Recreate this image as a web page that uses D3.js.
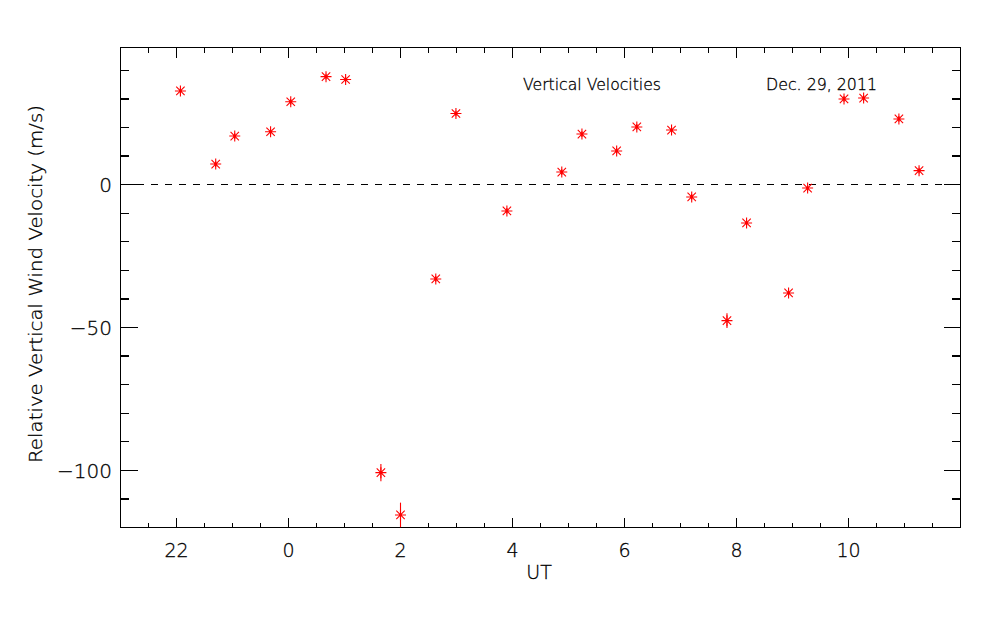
<!DOCTYPE html>
<html lang="en">
<head>
    <meta charset="UTF-8">
    <title>Vertical Velocities</title>
    <script src="https://d3js.org/d3.v7.min.js"></script>
    <style>
        body { margin: 0; background: #fff; }
        text { font-family: "DejaVu Sans", sans-serif; font-weight: 200; fill: #000;
               stroke: #000; stroke-width: 0.3; }
    </style>
</head>
<body>
<svg width="1000" height="625"></svg>

<script>
    // UT in hours, continuous across midnight (24 = 0 UT on the axis)
    const ut = [22.07, 22.70, 23.04, 23.68, 24.04, 24.67, 25.02, 25.65, 26.00,
                26.63, 26.99, 27.90, 28.88, 29.24, 29.86, 30.22, 30.84, 31.20,
                31.83, 32.18, 32.93, 33.27, 33.92, 34.27, 34.90, 35.26];
    // relative vertical wind velocity, m/s
    const vel = [32.8, 7.2, 17.0, 18.5, 29.0, 37.8, 36.8, -100.8, -115.6,
                 -33.0, 24.9, -9.2, 4.4, 17.7, 11.8, 20.2, 19.1, -4.3,
                 -47.6, -13.4, -37.9, -1.2, 30.0, 30.3, 23.0, 4.9];
    // error bars, m/s
    const err = [1.0, 1.0, 1.0, 1.0, 1.0, 1.0, 1.0, 3.0, 4.3,
                 1.0, 1.0, 1.0, 1.0, 1.0, 1.0, 1.0, 1.0, 1.0,
                 2.6, 1.0, 1.0, 1.0, 1.0, 1.0, 1.0, 1.0];

    const xMajor = [22, 24, 26, 28, 30, 32, 34];
    const yMajor = [-100, -50, 0];

    const svg = d3.select("svg");
    const pLeft = 120.5, pRight = 960.5, pTop = 47.5, pBottom = 527.5;

    const x = d3.scaleLinear().domain([21, 36]).range([pLeft, pRight]);
    const y = d3.scaleLinear().domain([-120, 48]).range([pBottom, pTop]);

    const xMinor = d3.range(21.5, 36, 0.5).filter(d => !xMajor.includes(d));
    const yMinor = d3.range(-120, 48, 10).filter(d => !yMajor.includes(d));

    const ax = svg.append("g")
        .attr("stroke", "#000")
        .attr("stroke-width", 1.2)
        .attr("shape-rendering", "crispEdges");

    // frame
    ax.append("rect")
        .attr("x", pLeft).attr("y", pTop)
        .attr("width", pRight - pLeft).attr("height", pBottom - pTop)
        .attr("fill", "none");

    // x ticks, bottom and top
    function xTicks(vals, len) {
        vals.forEach(d => {
            ax.append("line").attr("x1", x(d)).attr("x2", x(d))
                .attr("y1", pBottom).attr("y2", pBottom - len);
            ax.append("line").attr("x1", x(d)).attr("x2", x(d))
                .attr("y1", pTop).attr("y2", pTop + len);
        });
    }
    xTicks(xMajor, 10);
    xTicks(xMinor, 5);

    // y ticks, left and right
    function yTicks(vals, len) {
        vals.forEach(d => {
            ax.append("line").attr("y1", y(d)).attr("y2", y(d))
                .attr("x1", pLeft).attr("x2", pLeft + len);
            ax.append("line").attr("y1", y(d)).attr("y2", y(d))
                .attr("x1", pRight).attr("x2", pRight - len);
        });
    }
    yTicks(yMajor, 17);
    yTicks(yMinor, 8.5);

    // zero line
    svg.append("line")
        .attr("x1", pLeft).attr("x2", pRight)
        .attr("y1", y(0)).attr("y2", y(0))
        .attr("stroke", "#000")
        .attr("stroke-width", 1.2)
        .attr("stroke-dasharray", "7,7")
        .attr("stroke-dashoffset", 12)
        .attr("shape-rendering", "crispEdges");

    // tick labels
    svg.append("g").selectAll("text")
        .data(xMajor).enter().append("text")
        .attr("x", d => x(d))
        .attr("y", 557)
        .attr("text-anchor", "middle")
        .attr("font-size", 19)
        .text(d => d % 24);

    svg.append("g").selectAll("text")
        .data(yMajor).enter().append("text")
        .attr("x", 112)
        .attr("y", d => y(d) + 7.5)
        .attr("text-anchor", "end")
        .attr("font-size", 20)
        .text(d => d < 0 ? "\u2212" + Math.abs(d) : d);

    // axis titles
    svg.append("text")
        .attr("x", 539).attr("y", 579)
        .attr("text-anchor", "middle")
        .attr("font-size", 19)
        .text("UT");

    svg.append("text")
        .attr("transform", "translate(42,284) rotate(-90)")
        .attr("text-anchor", "middle")
        .attr("font-size", 18)
        .attr("textLength", 358)
        .attr("lengthAdjust", "spacingAndGlyphs")
        .text("Relative Vertical Wind Velocity (m/s)");

    // annotations
    svg.append("text")
        .attr("x", 523).attr("y", 90)
        .attr("font-size", 15)
        .attr("textLength", 138)
        .attr("lengthAdjust", "spacingAndGlyphs")
        .text("Vertical Velocities");

    svg.append("text")
        .attr("x", 766).attr("y", 90)
        .attr("font-size", 15)
        .attr("textLength", 111)
        .attr("lengthAdjust", "spacingAndGlyphs")
        .text("Dec. 29, 2011");

    // data: asterisks with error bars
    const pts = ut.map((d, i) => ({t: d, v: vel[i], e: err[i]}));

    const marks = svg.append("g")
        .attr("stroke", "#ff0000")
        .attr("stroke-width", 1.1)
        .attr("fill", "#ff0000");

    marks.selectAll("line.err")
        .data(pts).enter().append("line")
        .attr("class", "err")
        .attr("x1", d => x(d.t)).attr("x2", d => x(d.t))
        .attr("y1", d => y(d.v - d.e)).attr("y2", d => y(d.v + d.e));

    const star = marks.selectAll("g.star")
        .data(pts).enter().append("g")
        .attr("class", "star")
        .attr("transform", d => `translate(${x(d.t)},${y(d.v)})`);

    star.append("path")
        .attr("d", "M-5.5,0H5.5M0,-5.5V5.5M-4.2,-4.2L4.2,4.2M-4.2,4.2L4.2,-4.2");
    star.append("circle").attr("r", 1.4).attr("stroke", "none");
</script>
</body>
</html>
